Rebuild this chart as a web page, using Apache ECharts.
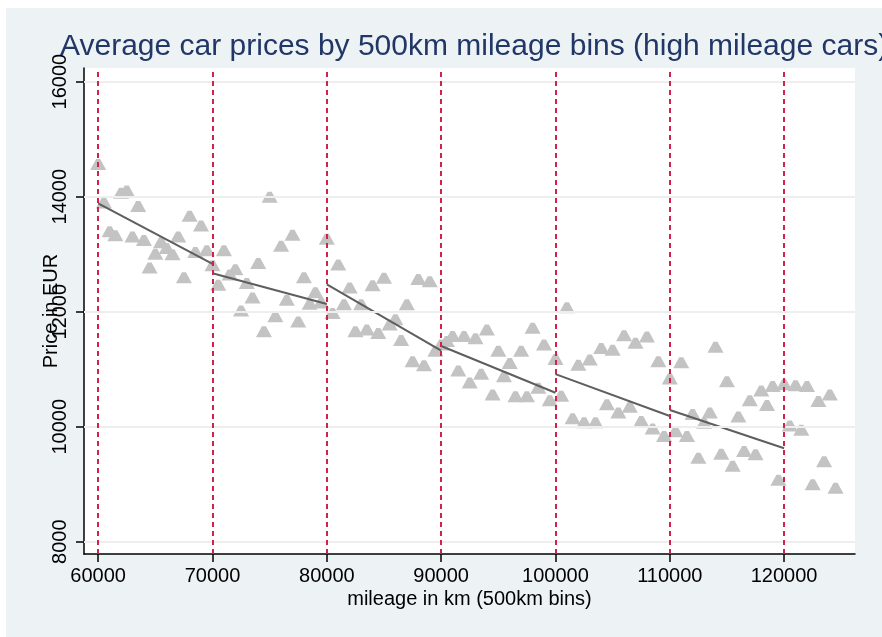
<!DOCTYPE html>
<html><head><meta charset="utf-8">
<script src="https://cdn.jsdelivr.net/npm/echarts@6/dist/echarts.min.js"></script>
<style>
html,body{margin:0;padding:0;background:#ffffff;}
#bg{position:absolute;left:6px;top:8px;width:876px;height:629px;background:#EDF3F4;}
#c{position:absolute;left:0;top:0;width:882px;height:637px;}
</style></head>
<body><div id="bg"></div><div id="c"></div>
<script>
// mileage bins (km)
const mileage = [
  60000,60500,61000,61500,62000,62500,63000,63500,64000,64500,65000,65500,66000,66500,67000,67500,68000,68500,69000,69500,
  70000,70500,71000,71500,72000,72500,73000,73500,74000,74500,75000,75500,76000,76500,77000,77500,78000,78500,79000,79500,
  80000,80500,81000,81500,82000,82500,83000,83500,84000,84500,85000,85500,86000,86500,87000,87500,88000,88500,89000,89500,
  90000,90500,91000,91500,92000,92500,93000,93500,94000,94500,95000,95500,96000,96500,97000,97500,98000,98500,99000,99500,
  100000,100500,101000,101500,102000,102500,103000,103500,104000,104500,105000,105500,106000,106500,107000,107500,108000,108500,109000,109500,
  110000,110500,111000,111500,112000,112500,113000,113500,114000,114500,115000,115500,116000,116500,117000,117500,118000,118500,119000,119500,
  120000,120500,121000,121500,122000,122500,123000,123500,124000,124500
];
// average price per bin (EUR)
const price = [
  14560,13890,13390,13320,14060,14100,13300,13830,13240,12760,13000,13200,13100,12990,13300,12590,13660,13030,13490,13060,
  12800,12460,13060,12640,12730,12010,12490,12240,12840,11650,13990,11910,13140,12200,13330,11820,12590,12130,12330,12150,
  13260,11970,12810,12120,12410,11650,12120,11680,12450,11620,12580,11770,11860,11500,12120,11130,12560,11060,12520,11310,
  11420,11480,11570,10970,11570,10760,11530,10910,11680,10550,11310,10870,11100,10520,11310,10520,11710,10670,11420,10450,
  11170,10530,12070,10140,11070,10070,11160,10070,11360,10380,11330,10240,11580,10340,11450,10090,11560,9960,11130,9830,
  10830,9910,11110,9830,10210,9450,10060,10240,11380,9520,10780,9310,10170,9570,10450,9510,10620,10370,10700,9070,
  10730,10010,10710,9940,10700,8990,10440,9390,10550,8930
];
// piecewise fit lines, one per 10000 km segment
const fitFrom = [60000, 70000, 80000, 90000, 100000, 110000];
const fitTo = [70000, 80000, 90000, 100000, 110000, 120000];
const fitStartPrice = [13885, 12668, 12477, 11403, 10914, 10290];
const fitEndPrice = [12830, 12134, 11322, 10591, 10186, 9624];
// cutoff lines
const cutoffs = [60000, 70000, 80000, 90000, 100000, 110000, 120000];
// tick labels
const xTicks = [60000, 70000, 80000, 90000, 100000, 110000, 120000];
const yTicks = [8000, 10000, 12000, 14000, 16000];

const FONT = "'Liberation Sans', Arial, Helvetica, sans-serif";
const chart = echarts.init(document.getElementById('c'), null, {renderer: 'canvas'});

const series = [];
series.push({
  type: 'line', data: [], z: 1, silent: true,
  markLine: {
    silent: true, symbol: 'none', label: {show: false},
    lineStyle: {color: '#EEEEEE', width: 2, type: 'solid'},
    data: yTicks.map(v => ({yAxis: v}))
  }
});
series.push({
  type: 'scatter',
  data: mileage.map((m, i) => [m, price[i]]),
  symbol: 'path://M6,0 L10,0 L16,11 L0,11 Z',
  symbolSize: [16, 11],
  itemStyle: {color: '#C3C3C3', opacity: 1},
  z: 2
});
series.push({
  type: 'line', data: [], z: 3, silent: true,
  markLine: {
    silent: true, symbol: 'none', label: {show: false},
    lineStyle: {color: '#D2214F', width: 2, type: [5, 4]},
    data: cutoffs.map(v => ({xAxis: v}))
  }
});
for (let i = 0; i < fitFrom.length; i++) {
  series.push({
    type: 'line',
    data: [[fitFrom[i], fitStartPrice[i]], [fitTo[i], fitEndPrice[i]]],
    showSymbol: false, symbol: 'none',
    lineStyle: {color: '#5E5E5E', width: 2},
    z: 4, silent: true
  });
}

chart.setOption({
  animation: false,
  textStyle: {fontFamily: FONT},
  title: {
    text: 'Average car prices by 500km mileage bins (high mileage cars)',
    left: 55, top: 27,
    textStyle: {fontSize: 30, fontWeight: 'normal', color: '#223767', fontFamily: FONT}
  },
  grid: {
    left: 84, right: 27, top: 68, bottom: 83,
    show: true, backgroundColor: '#ffffff', borderWidth: 0
  },
  xAxis: {
    type: 'value', min: 58760, max: 126200,
    axisLine: {show: true, onZero: false, lineStyle: {color: '#000', width: 1.5}},
    axisTick: {show: true, customValues: xTicks, length: 8, lineStyle: {color: '#000', width: 1.5}},
    axisLabel: {customValues: xTicks, formatter: v => String(v), fontSize: 20, color: '#000', margin: 12, fontFamily: FONT},
    splitLine: {show: false},
    name: 'mileage in km (500km bins)', nameLocation: 'middle', nameGap: 35, nameMoveOverlap: false,
    nameTextStyle: {fontSize: 20, color: '#000', fontFamily: FONT}
  },
  yAxis: {
    type: 'value', min: 7786, max: 16238,
    axisLine: {show: true, onZero: false, lineStyle: {color: '#000', width: 1.5}},
    axisTick: {show: true, customValues: yTicks, length: 8, lineStyle: {color: '#000', width: 1.5}},
    axisLabel: {customValues: yTicks, formatter: v => String(v), rotate: 90, fontSize: 20, color: '#000', margin: 14, fontFamily: FONT},
    splitLine: {show: false},
    name: 'Price in EUR', nameLocation: 'middle', nameGap: 23, nameRotate: 90, nameMoveOverlap: false,
    nameTextStyle: {fontSize: 20, color: '#000', fontFamily: FONT}
  },
  series: series
});
</script>
</body></html>
